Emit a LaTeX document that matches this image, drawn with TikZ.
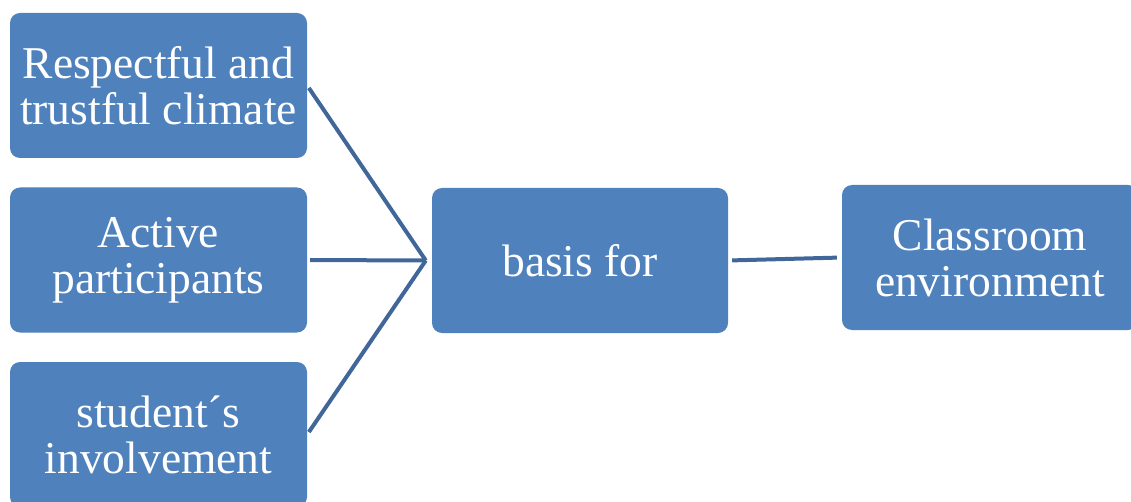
\documentclass[tikz,border=0pt]{standalone}
\usepackage{fontspec}
\setmainfont{Liberation Serif}
\definecolor{boxfill}{HTML}{4F81BD}
\definecolor{linkcol}{HTML}{41679A}
\begin{document}
\begin{tikzpicture}[x=1pt,y=-1pt,
  box/.style={draw=none,fill=boxfill,rounded corners=10pt,text=white,align=center,
    font=\fontsize{45.5}{46}\selectfont,inner sep=0pt},
  link/.style={draw=linkcol,line width=4pt}]
\useasboundingbox (0,0) rectangle (1131,502);
\begin{scope}
\clip (0,0) rectangle (1131,502);
\node[box,minimum width=297pt,minimum height=145pt] (b1) at (158.5,85.5) {Respectful and\\trustful climate};
\node[box,minimum width=297pt,minimum height=145pt] (b2) at (158.5,260) {Active\\participants};
\node[box,minimum width=297pt,minimum height=145pt] (b3) at (158.5,434.5) {student´s\\involvement};
\node[box,minimum width=296pt,minimum height=145pt] (c) at (580,260.5) {basis for};
\node[box,minimum width=296pt,minimum height=145pt] (r) at (990,257.5) {Classroom\\environment};
\end{scope}
\coordinate (j) at ([xshift=-6pt]c.west);
\draw[link,shorten <=3pt] (b1.east) -- (j);
\draw[link,shorten <=3pt] (b2.east) -- (j);
\draw[link,shorten <=3pt] (b3.east) -- (j);
\draw[link,shorten <=4pt,shorten >=5pt] (c.east) -- (r.west);
\end{tikzpicture}
\end{document}
